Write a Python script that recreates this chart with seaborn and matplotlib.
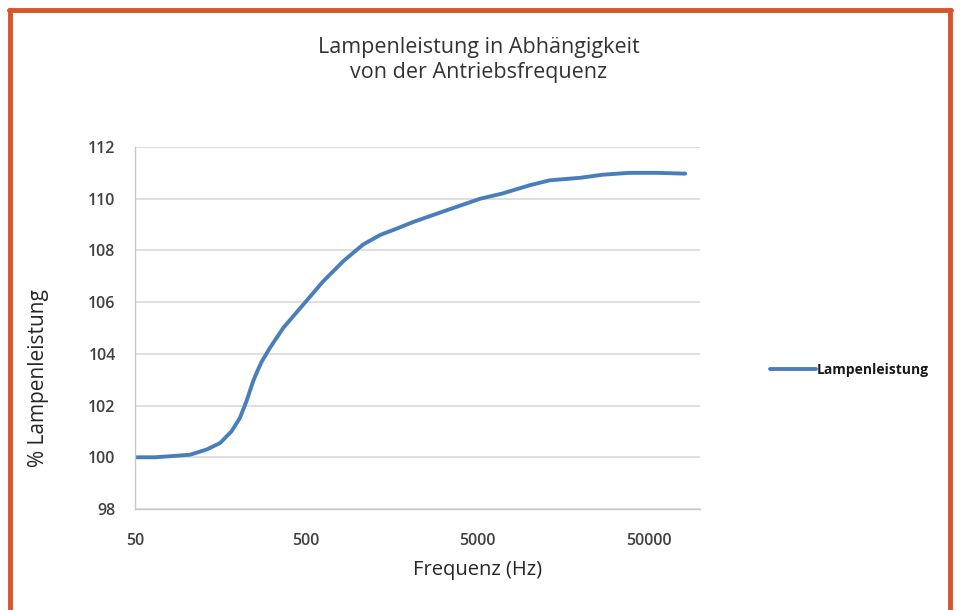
import matplotlib
matplotlib.use("Agg")
import matplotlib.pyplot as plt
from matplotlib.lines import Line2D
import seaborn as sns
import pandas as pd

freq_hz = [50, 65, 80, 105, 131, 157, 183, 205, 224, 245, 260, 275, 307, 367, 480,
           628, 822, 1076, 1355, 1685, 2110, 3300, 5200, 7000, 10100, 13200,
           20000, 27100, 38800, 55500, 82000]
leistung = [100.0, 100.0, 100.04, 100.1, 100.3, 100.55, 101.0, 101.52, 102.17,
            102.94, 103.35, 103.7, 104.23, 105.0, 105.9, 106.8, 107.58, 108.23, 108.6,
            108.84, 109.1, 109.55, 110.0, 110.2, 110.52, 110.71, 110.81, 110.93,
            111.0, 111.0, 110.97]
x_ticks = [50, 500, 5000, 50000]
x_ticklabels = ["50", "500", "5000", "50000"]
y_ticks = [98, 100, 102, 104, 106, 108, 110, 112]

title = "Lampenleistung in Abhängigkeit\nvon der Antriebsfrequenz"
x_label = "Frequenz (Hz)"
y_label = "% Lampenleistung"
series_name = "Lampenleistung"

sns.set_style("white")
plt.rcParams["font.family"] = ["Open Sans", "DejaVu Sans"]

df = pd.DataFrame({"Frequenz": freq_hz, "Wert": leistung})

fig = plt.figure(figsize=(9.62, 6.10), dpi=100)
ax = fig.add_axes([135/962, 1-509/610, (700-135)/962, (509-147)/610])

sns.lineplot(data=df, x="Frequenz", y="Wert", ax=ax, color="#4A7EBB",
             linewidth=2.8, label=series_name)
ax.set_xscale("log")
ax.set_xlim(50, 100000)
ax.set_ylim(98, 112)
ax.set_xticks(x_ticks)
ax.set_xticklabels(x_ticklabels)
ax.minorticks_off()
ax.set_yticks(y_ticks)
ax.set_yticklabels([str(v) for v in y_ticks])
ax.tick_params(axis="both", length=0, labelsize=11.5, labelcolor="#404040")
ax.xaxis.set_tick_params(pad=17)
ax.yaxis.set_tick_params(pad=14)
for lab in ax.get_xticklabels() + ax.get_yticklabels():
    lab.set_fontweight("semibold")

ax.yaxis.grid(True, color="#d9d9d9", linewidth=1.2)
ax.xaxis.grid(False)
for s in ["top", "right"]:
    ax.spines[s].set_visible(False)
for s in ["left", "bottom"]:
    ax.spines[s].set_color("#c8c8c8")
    ax.spines[s].set_linewidth(1.0)

ax.set_xlabel("")
ax.set_ylabel("")
fig.text(478/962, 1-570/610, x_label, ha="center", va="center", fontsize=14.5,
         color="#262626")
fig.text(39/962, 1-378/610, y_label, ha="center", va="center", fontsize=15,
         color="#262626", rotation=90)
fig.text(479/962, 1-60/610, title, ha="center", va="center", fontsize=15.5,
         color="#333333", linespacing=1.3)

leg = ax.legend(loc="center left", bbox_to_anchor=((770-135)/565, 1-(370-147)/362),
                frameon=False, borderaxespad=0, borderpad=0,
                handlelength=3.3, handletextpad=0.1, fontsize=10)
for t in leg.get_texts():
    t.set_fontweight("bold")
    t.set_color("#1a1a1a")

border_col = "#D9532B"
lw = 3.5
fig.add_artist(Line2D([10/962, 10/962], [0, 1-9.5/610], color=border_col, lw=lw,
                      transform=fig.transFigure))
fig.add_artist(Line2D([950/962, 950/962], [0, 1-9.5/610], color=border_col, lw=lw,
                      transform=fig.transFigure))
fig.add_artist(Line2D([8.5/962, 951.5/962], [1-9.5/610, 1-9.5/610], color=border_col,
                      lw=lw, transform=fig.transFigure))

fig.savefig("out.png", dpi=100)
